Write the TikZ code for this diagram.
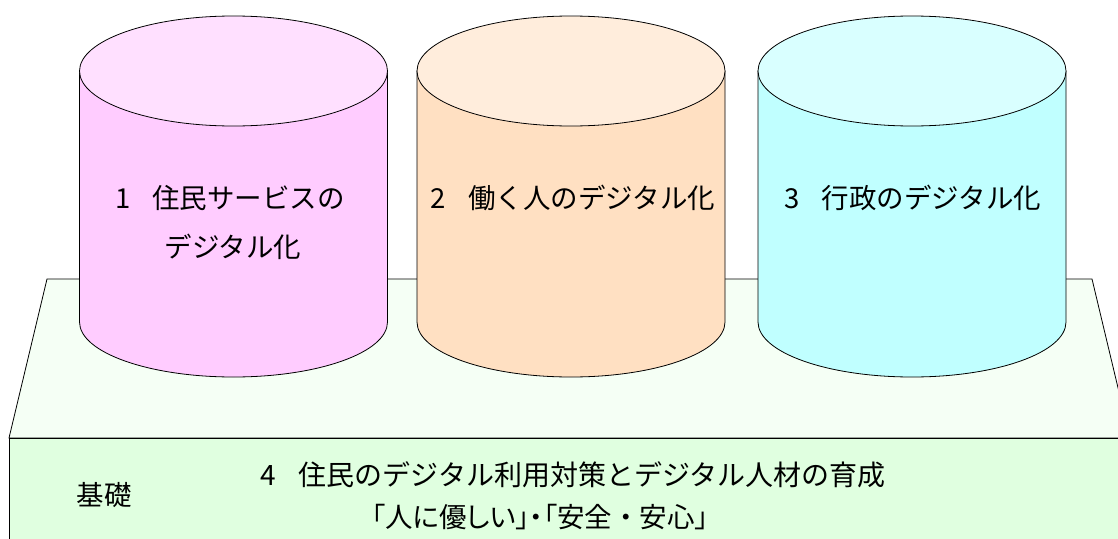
\documentclass[tikz,border=0pt]{standalone}
\usepackage{fontspec}
\setmainfont{Noto Sans CJK JP}
\newfontfamily\paltfont[RawFeature=+palt]{Noto Sans CJK JP}
\definecolor{pinktop}{HTML}{FFE0FF}
\definecolor{pinkbody}{HTML}{FFCCFF}
\definecolor{orangetop}{HTML}{FFEDDC}
\definecolor{orangebody}{HTML}{FFE0C2}
\definecolor{cyantop}{HTML}{D9FFFF}
\definecolor{cyanbody}{HTML}{C0FFFF}
\definecolor{plattop}{HTML}{F5FFF5}
\definecolor{platfront}{HTML}{E0FFE0}
\begin{document}
\begin{tikzpicture}[x=1pt,y=1pt,
  edge/.style={draw=black,line width=0.8pt},
  label/.style={inner sep=0pt,font=\fontsize{27.5}{49}\selectfont,align=center,text=black}]
\useasboundingbox (0,0) rectangle (1118,-538);
\clip (0,0) rectangle (1118,-538);
% platform
\draw[edge,fill=plattop] (47,-279) -- (1092,-279) -- (1130,-438) -- (9,-438) -- cycle;
\draw[edge,fill=platfront] (9,-438) rectangle (1140,-560);
% cylinders
\foreach \cx/\body/\top in {233.5/pinkbody/pinktop,571/orangebody/orangetop,912/cyanbody/cyantop}{
  \draw[edge,fill=\body] (\cx-154,-71) -- (\cx-154,-322)
     arc[start angle=180,end angle=360,x radius=154,y radius=55] -- (\cx+154,-71) -- cycle;
  \draw[edge,fill=\top] (\cx,-71) ellipse[x radius=154,y radius=55];
}
\node[label] (c1a) at (230,-198) {1\hspace{0.8em}住民サービスの};
\node[label] (c1b) at (233,-247) {デジタル化};
\node[label] (c2) at (573,-198) {2\hspace{0.8em}働く人のデジタル化};
\node[label] (c3) at (913,-198) {3\hspace{0.8em}行政のデジタル化};
\node[label] (base) at (104,-495) {基礎};
\node[label,font=\fontsize{28}{49}\selectfont] (b1) at (573,-475) {4\hspace{0.8em}住民のデジタル利用対策とデジタル人材の育成};
\node[label] (b2) at (540,-517) {{\paltfont 「人に優しい」・「}安全・安心{\paltfont 」}};
\end{tikzpicture}
\end{document}
